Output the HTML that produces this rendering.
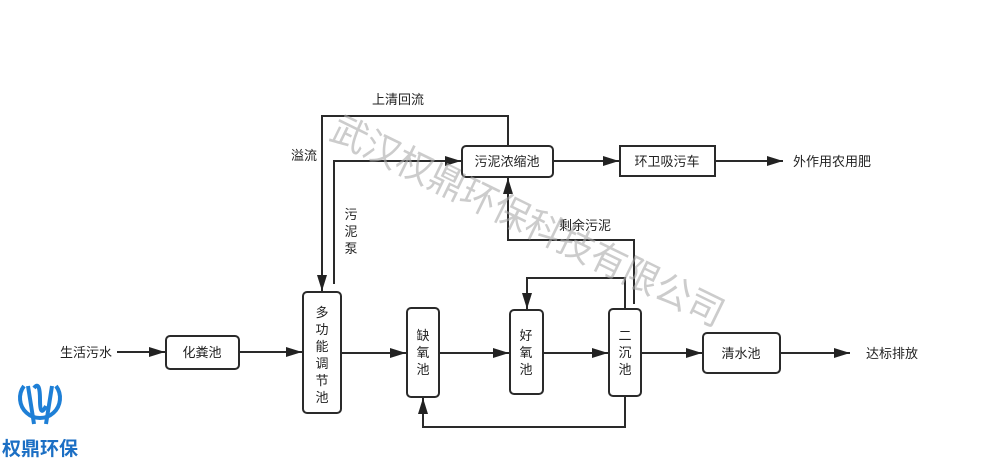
<!DOCTYPE html>
<html><head><meta charset="utf-8"><style>
html,body{margin:0;padding:0;background:#fff;}
svg{display:block;font-family:"Liberation Sans","Noto Sans CJK SC",sans-serif;}
</style></head><body>
<svg width="1004" height="458" viewBox="0 0 1004 458" xmlns="http://www.w3.org/2000/svg">
<defs>
<marker id="b" viewBox="0 0 16 10" markerWidth="16" markerHeight="10" refX="16" refY="5" orient="auto" markerUnits="userSpaceOnUse">
<path d="M0,0 L16,5 L0,10 Z" fill="#222"/></marker>
</defs>
<g fill="none" stroke="#2a2a2a" stroke-width="2">
<line x1="117" y1="352" x2="165" y2="352" marker-end="url(#b)"/>
<line x1="239" y1="352" x2="302" y2="352" marker-end="url(#b)"/>
<line x1="341" y1="353" x2="406" y2="353" marker-end="url(#b)"/>
<line x1="439" y1="353" x2="509" y2="353" marker-end="url(#b)"/>
<line x1="543" y1="353" x2="608" y2="353" marker-end="url(#b)"/>
<line x1="641" y1="353" x2="702" y2="353" marker-end="url(#b)"/>
<line x1="780" y1="353" x2="850" y2="353" marker-end="url(#b)"/>
<polyline points="508,146 508,116 322,116 322,291" marker-end="url(#b)"/>
<polyline points="334,284 334,161 461,161" marker-end="url(#b)"/>
<line x1="553" y1="161" x2="619" y2="161" marker-end="url(#b)"/>
<line x1="715" y1="161" x2="783" y2="161" marker-end="url(#b)"/>
<polyline points="634,304 634,240 508,240 508,178" marker-end="url(#b)"/>
<polyline points="625,309 625,278 527,278 527,309" marker-end="url(#b)"/>
<polyline points="625,396 625,427 423,427 423,398" marker-end="url(#b)"/>
<rect x="166" y="336" width="73" height="33" rx="4" fill="#fff"/>
<rect x="303" y="292" width="38" height="121" rx="4" fill="#fff"/>
<rect x="407" y="308" width="32" height="89" rx="4" fill="#fff"/>
<rect x="510" y="310" width="33" height="84" rx="4" fill="#fff"/>
<rect x="609" y="309" width="32" height="87" rx="4" fill="#fff"/>
<rect x="703" y="333" width="77" height="40" rx="4" fill="#fff"/>
<rect x="462" y="146" width="91" height="31" rx="4" fill="#fff"/>
<rect x="620" y="146" width="95" height="30" fill="#fff"/>
</g>
<g font-size="13" fill="#222">
<text x="60" y="357">生活污水</text>
<text x="202" y="357" text-anchor="middle">化粪池</text>
<text x="741" y="358" text-anchor="middle">清水池</text>
<text x="866" y="358">达标排放</text>
<text x="507" y="166" text-anchor="middle">污泥浓缩池</text>
<text x="667" y="166" text-anchor="middle">环卫吸污车</text>
<text x="793" y="166">外作用农用肥</text>
<text x="372" y="104">上清回流</text>
<text x="291" y="160">溢流</text>
<text x="559" y="230">剩余污泥</text>
<g text-anchor="middle">
<text x="351" y="219">污</text><text x="351" y="236">泥</text><text x="351" y="253">泵</text>
<text x="322" y="317">多</text><text x="322" y="334">功</text><text x="322" y="351">能</text><text x="322" y="368">调</text><text x="322" y="385">节</text><text x="322" y="402">池</text>
<text x="423" y="340">缺</text><text x="423" y="357">氧</text><text x="423" y="374">池</text>
<text x="526" y="340">好</text><text x="526" y="357">氧</text><text x="526" y="374">池</text>
<text x="625" y="340">二</text><text x="625" y="357">沉</text><text x="625" y="374">池</text>
</g>
</g>
<text x="328" y="138" font-size="37" fill="#aaa" fill-opacity="0.6" transform="rotate(26 328 138)" textLength="432" lengthAdjust="spacingAndGlyphs">武汉权鼎环保科技有限公司</text>
<g fill="none" stroke="#1e7fd6" stroke-width="4">
<path d="M24,386 A20,20 0 1 0 56,386"/>
<path d="M28,386 L34,424 M52,386 L46,424 M34,388 Q40,380 40,400 Q40,418 46,406"/>
</g>
<text x="2" y="455" font-size="19" fill="#1c6fc4" font-weight="bold">权鼎环保</text>
</svg>
</body></html>
